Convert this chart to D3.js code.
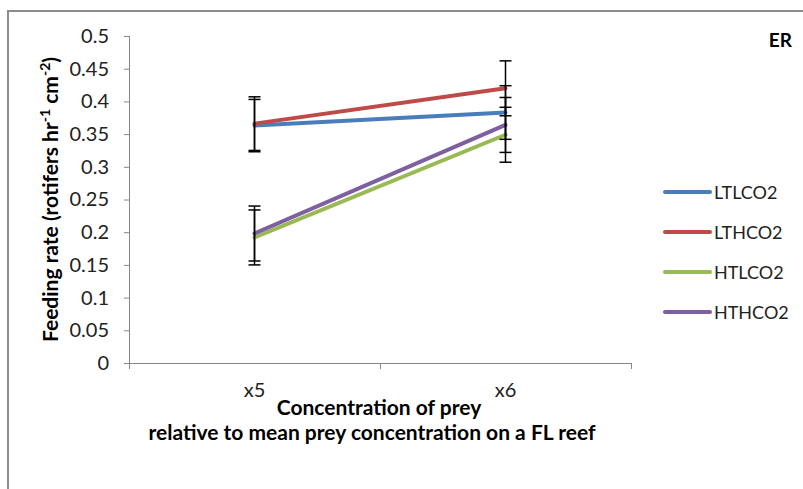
<!DOCTYPE html>
<html>
<head>
<meta charset="utf-8">
<script src="https://cdn.jsdelivr.net/npm/d3@7"></script>
<style>
  body { margin: 0; background: #fff; }
  svg { display: block; font-family: Lato, "Open Sans", sans-serif; }
</style>
</head>
<body>
<svg id="chart" width="803" height="489"></svg>
<script>
// data
const categories = ['x5', 'x6'];
const seriesNames = ['LTLCO2', 'LTHCO2', 'HTLCO2', 'HTHCO2'];
const seriesColors = ['#4a7ebb', '#be4b48', '#98b954', '#7d60a0'];
const LTLCO2 = [0.363, 0.383];
const LTHCO2 = [0.366, 0.420];
const HTLCO2 = [0.192, 0.349];
const HTHCO2 = [0.198, 0.364];
const LTLCO2_err = [0.040, 0.041];
const LTHCO2_err = [0.041, 0.042];
const HTLCO2_err = [0.042, 0.042];
const HTHCO2_err = [0.042, 0.042];
const yTicks = [0, 0.05, 0.1, 0.15, 0.2, 0.25, 0.3, 0.35, 0.4, 0.45, 0.5];

const values = [LTLCO2, LTHCO2, HTLCO2, HTHCO2];
const errors = [LTLCO2_err, LTHCO2_err, HTLCO2_err, HTHCO2_err];

const svg = d3.select('#chart');
const plotLeft = 129, plotRight = 631, plotTop = 36, plotBottom = 363;
const axisColor = '#868686';

// chart frame (top and left edges only)
svg.append('path')
    .attr('d', 'M8,489V11H803')
    .attr('fill', 'none')
    .attr('stroke', '#8c8c8c')
    .attr('stroke-width', 2);

const x = d3.scaleBand()
    .domain(categories)
    .range([plotLeft, plotRight]);

const y = d3.scaleLinear()
    .domain([0, 0.5])
    .range([plotBottom, plotTop]);

// y axis
const yAxis = svg.append('g')
    .attr('transform', `translate(${plotLeft},0)`)
    .call(d3.axisLeft(y).tickValues(yTicks).tickSize(5).tickPadding(15)
      .tickFormat(d => String(+d.toFixed(2))));
yAxis.select('.domain').attr('stroke', axisColor).attr('d', `M0.5,${plotTop}V${plotBottom}`);
yAxis.selectAll('.tick line').attr('stroke', axisColor);
yAxis.selectAll('.tick text')
    .attr('fill', '#222')
    .style('font-size', '20px')
    .style('font-family', 'Lato, sans-serif');

// x axis
const xAxis = svg.append('g')
    .attr('transform', `translate(0,${plotBottom})`)
    .call(d3.axisBottom(x).tickSize(0).tickPadding(20));
xAxis.select('.domain').attr('stroke', axisColor).attr('d', `M${plotLeft},0.5H${plotRight}`);
xAxis.selectAll('.tick text')
    .attr('fill', '#222')
    .style('font-size', '20px')
    .style('font-family', 'Lato, sans-serif');
// category boundary ticks
const bounds = [plotLeft].concat(categories.map(c => x(c) + x.bandwidth()));
xAxis.selectAll('line.bound')
    .data(bounds)
    .enter().append('line')
    .attr('class', 'bound')
    .attr('x1', d => d + 0.5).attr('x2', d => d + 0.5)
    .attr('y1', 0).attr('y2', 6)
    .attr('stroke', axisColor);

const cx = c => x(c) + x.bandwidth() / 2;

// series lines
const line = d3.line()
    .x((d, i) => cx(categories[i]))
    .y(d => y(d));

svg.append('g')
    .selectAll('path')
    .data(values)
    .enter().append('path')
    .attr('d', d => line(d))
    .attr('fill', 'none')
    .attr('stroke', (d, i) => seriesColors[i])
    .attr('stroke-width', 4)
    .attr('stroke-linecap', 'round');

// error bars
const errG = svg.append('g').attr('stroke', '#000').attr('stroke-width', 1.5);
values.forEach((vals, s) => {
  vals.forEach((v, i) => {
    const px = cx(categories[i]);
    const e = errors[s][i];
    errG.append('line')
        .attr('x1', px).attr('x2', px)
        .attr('y1', y(v + e)).attr('y2', y(v - e));
    [v + e, v - e].forEach(b => {
      errG.append('line')
          .attr('x1', px - 6).attr('x2', px + 6)
          .attr('y1', y(b)).attr('y2', y(b));
    });
  });
});

// legend
const legend = svg.append('g')
    .selectAll('g')
    .data(seriesNames)
    .enter().append('g')
    .attr('transform', (d, i) => `translate(665,${192 + i * 40})`);
legend.append('line')
    .attr('x1', 0).attr('x2', 45)
    .attr('stroke', (d, i) => seriesColors[i])
    .attr('stroke-width', 4)
    .attr('stroke-linecap', 'round');
legend.append('text')
    .attr('x', 49)
    .attr('y', 7)
    .attr('fill', '#222')
    .style('font-size', '18px')
    .text(d => d);

// title in the corner
svg.append('text')
    .attr('x', 792)
    .attr('y', 47)
    .attr('text-anchor', 'end')
    .attr('font-weight', 'bold')
    .style('font-size', '19px')
    .text('ER');

// y axis title
const yTitle = svg.append('text')
    .attr('transform', `translate(58,${(plotTop + plotBottom) / 2}) rotate(-90)`)
    .attr('text-anchor', 'middle')
    .attr('font-weight', 'bold')
    .style('font-size', '21px');
yTitle.append('tspan').text('Feeding rate (rotifers hr');
yTitle.append('tspan').attr('dy', -8).style('font-size', '14px').text('-1');
yTitle.append('tspan').attr('dy', 8).text(' cm');
yTitle.append('tspan').attr('dy', -8).style('font-size', '14px').text('-2');
yTitle.append('tspan').attr('dy', 8).text(')');

// x axis title
const xTitle = svg.append('text')
    .attr('text-anchor', 'middle')
    .attr('font-weight', 'bold')
    .style('font-size', '21px');
xTitle.append('tspan').attr('x', 379).attr('y', 415).text('Concentration of prey');
xTitle.append('tspan').attr('x', 372).attr('y', 440).text('relative to mean prey concentration on a FL reef');
</script>
</body>
</html>
